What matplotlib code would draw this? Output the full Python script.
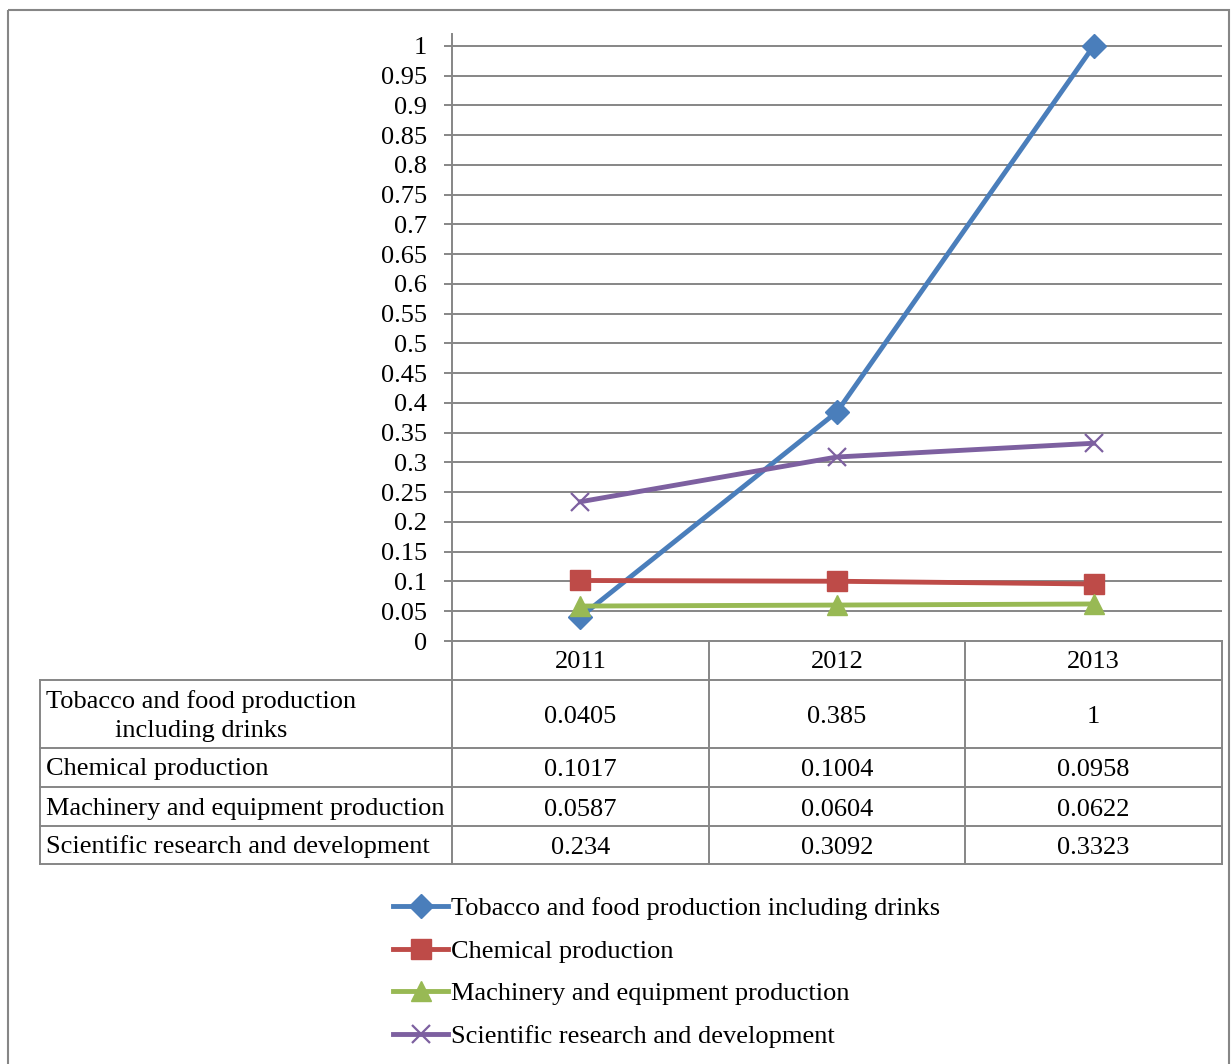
import matplotlib
matplotlib.use("Agg")
import matplotlib.pyplot as plt
import matplotlib.transforms as mtransforms
from matplotlib.patches import Rectangle

years = ["2011", "2012", "2013"]
series_names = [
    "Tobacco and food production including drinks",
    "Chemical production",
    "Machinery and equipment production",
    "Scientific research and development",
]
row_labels = [
    "Tobacco and food production\nincluding drinks",
    "Chemical production",
    "Machinery and equipment production",
    "Scientific research and development",
]
tobacco = [0.0405, 0.385, 1]
chemical = [0.1017, 0.1004, 0.0958]
machinery = [0.0587, 0.0604, 0.0622]
research = [0.234, 0.3092, 0.3323]
table_text = [
    ["0.0405", "0.385", "1"],
    ["0.1017", "0.1004", "0.0958"],
    ["0.0587", "0.0604", "0.0622"],
    ["0.234", "0.3092", "0.3323"],
]
yticks = [i * 0.05 for i in range(21)]
ytick_labels = ["0", "0.05", "0.1", "0.15", "0.2", "0.25", "0.3", "0.35", "0.4", "0.45",
                "0.5", "0.55", "0.6", "0.65", "0.7", "0.75", "0.8", "0.85", "0.9", "0.95", "1"]

colors = ["#4A7EBB", "#BE4B48", "#98B954", "#7D60A0"]
markers = ["D", "s", "^", "x"]
msizes = [12, 14, 14, 13]

plt.rcParams["font.family"] = ["Liberation Serif", "DejaVu Serif"]
FS = 19
GRID = "#868686"

W, H = 1231, 1064
fig = plt.figure(figsize=(W / 100, H / 100), dpi=100)

# overlay in pixel coordinates (y down) for frame and table
ov = fig.add_axes([0, 0, 1, 1])
ov.set_xlim(0, W)
ov.set_ylim(H, 0)
ov.axis("off")
ov.patch.set_alpha(0)
ov.add_patch(Rectangle((8, 10), 1221, 1080, fill=False, edgecolor=GRID, lw=1.5, clip_on=False))

# main axes: x from 452 to 1222 px, y=0 at 641 px, y=1 at 46 px
left, right = 452 / W, 1222 / W
bottom = (H - 641) / H
top = (H - 34) / H
ax = fig.add_axes([left, bottom, right - left, top - bottom])
ax.set_xlim(-0.5, 2.5)
ax.set_ylim(0, 1.02)
ax.patch.set_alpha(0)

for v in yticks[1:]:
    ax.axhline(v, color=GRID, lw=1.4, zorder=1)

x = list(range(len(years)))
data = [tobacco, chemical, machinery, research]
handles = []
for vals, c, m, ms, name in zip(data, colors, markers, msizes, series_names):
    mew = 1.6 if m == "x" else 1
    h, = ax.plot(x, vals, color=c, lw=3.5, marker=m, markersize=ms,
                 markeredgecolor=c, markerfacecolor=c, markeredgewidth=mew,
                 label=name, zorder=3, clip_on=False)
    handles.append(h)

for s in ["top", "right"]:
    ax.spines[s].set_visible(False)
ax.spines["left"].set_color(GRID)
ax.spines["left"].set_linewidth(1.4)
ax.spines["bottom"].set_color(GRID)
ax.spines["bottom"].set_linewidth(1.4)
ax.set_yticks(yticks)
ax.set_yticklabels(ytick_labels, fontsize=FS)
ax.tick_params(axis="y", direction="out", length=6, width=1.4, color=GRID, pad=12)
ax.set_xticks([])

# data table below the plot
tr = mtransforms.blended_transform_factory(ax.transData, ov.transData)
row_edges = [641, 680, 748, 787, 826, 864]
col_edges = [-0.5, 0.5, 1.5, 2.5]
tl = dict(color=GRID, lw=1.4, clip_on=False)
for xe in col_edges:
    ax.plot([xe, xe], [row_edges[0], row_edges[-1]], transform=tr, **tl)
for ye in row_edges[1:]:
    ov.plot([40, 1222], [ye, ye], **tl)
ov.plot([40, 40], [row_edges[1], row_edges[-1]], **tl)

for i, yr in enumerate(years):
    ax.text(i, (row_edges[0] + row_edges[1]) / 2 + 1, yr, transform=tr,
            ha="center", va="center", fontsize=FS)
for r, (lab, vals) in enumerate(zip(row_labels, table_text)):
    yc = (row_edges[r + 1] + row_edges[r + 2]) / 2 + 2
    ov.text(46, yc, lab, ha="left", va="center", fontsize=FS,
            multialignment="center", linespacing=1.4)
    for i, t in enumerate(vals):
        ax.text(i, yc + 1, t, transform=tr, ha="center", va="center", fontsize=FS)

# legend
fig.legend(handles=handles, loc="upper left",
           bbox_to_anchor=(393 / W, (H - 897) / H),
           frameon=False, fontsize=FS, handlelength=2.1, handletextpad=0.1,
           labelspacing=0.72, borderpad=0, borderaxespad=0, numpoints=1)

fig.savefig("out.png", dpi=100)
